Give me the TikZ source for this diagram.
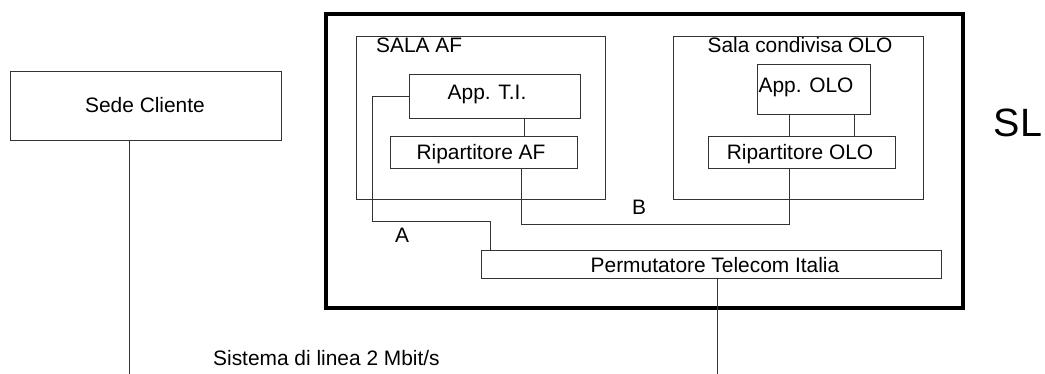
\documentclass[tikz,border=0pt]{standalone}
\usepackage{fontspec}
\setmainfont{Liberation Sans}
\begin{document}
\begin{tikzpicture}[x=1pt,y=-1pt,
  box/.style={draw=black!80, line width=1pt, inner sep=0pt, minimum width=#1},
  thin/.style={draw=black!80, line width=1pt},
  txt/.style={inner sep=0pt, font=\fontsize{20.9}{24}\selectfont}]
\fill[white] (0,0) rectangle (1045,374);
\useasboundingbox (0,0) rectangle (1045,374);
% boxes
\node[draw=black, line width=4pt, inner sep=0pt, minimum width=637pt, minimum height=294pt] (outer) at (644.5,161) {};
\node[box=249pt, minimum height=163pt] (salaaf) at (480.5,118.5) {};
\node[box=250pt, minimum height=163pt] (salaolo) at (798,118.5) {};
\node[box=171pt, minimum height=44pt] (apti) at (494.5,97) {};
\node[box=187pt, minimum height=32pt] (ripaf) at (483.5,153) {};
\node[box=113pt, minimum height=50pt] (appolo) at (813.5,90) {};
\node[box=187pt, minimum height=32pt] (ripolo) at (801.5,153) {};
\node[box=460pt, minimum height=28pt] (perm) at (711,265) {};
\node[box=271pt, minimum height=69pt] (sede) at (145.5,106.5) {};
% texts
\node[txt, anchor=base west] (tsalaaf) at (376,53) {SALA AF};
\node[txt, anchor=base] (tsalaolo) at (800,53) {Sala condivisa OLO};
\node[txt, anchor=base] (tapti) at (487,100) {App. T.I.};
\node[txt, anchor=base] (tappolo) at (806,93) {App. OLO};
\node[txt, anchor=base] (tripaf) at (481,160) {Ripartitore AF};
\node[txt, anchor=base] (tripolo) at (800,160) {Ripartitore OLO};
\node[txt, anchor=base] (tperm) at (715,273) {Permutatore Telecom Italia};
\node[txt, anchor=base] (tsede) at (145,113) {Sede Cliente};
\node[txt, anchor=base west] (tsis) at (213,366) {Sistema di linea 2 Mbit/s};
\node[txt, anchor=base] (la) at (402,243) {A};
\node[txt, anchor=base] (lb) at (639,215) {B};
\node[inner sep=0pt, font=\fontsize{39.5}{44}\selectfont, anchor=base] (sl) at (1018,137) {SL};
% helper coordinates
\coordinate (xa) at (490,0);
\coordinate (xb) at (521,0);
\coordinate (xo1) at (789,0);
\coordinate (xo2) at (854,0);
\coordinate (xaf) at (524,0);
\coordinate (xp) at (717,0);
\coordinate (sedeend) at (129,374);
\coordinate (permend) at (717,374);
% connectors
\draw[thin] (sede.south -| sedeend) -- (sedeend);
\draw[thin] (perm.south -| xp) -- (permend);
\draw[thin] (apti.south -| xaf) -- (ripaf.north -| xaf);
\draw[thin] (appolo.south -| xo1) -- (ripolo.north -| xo1);
\draw[thin] (appolo.south -| xo2) -- (ripolo.north -| xo2);
\draw[thin] (apti.west) -- (372,97) -- (372,222) -| (perm.north -| xa);
\draw[thin] (ripaf.south -| xb) -- (521,225) -| (ripolo.south -| xo1);
\end{tikzpicture}
\end{document}
